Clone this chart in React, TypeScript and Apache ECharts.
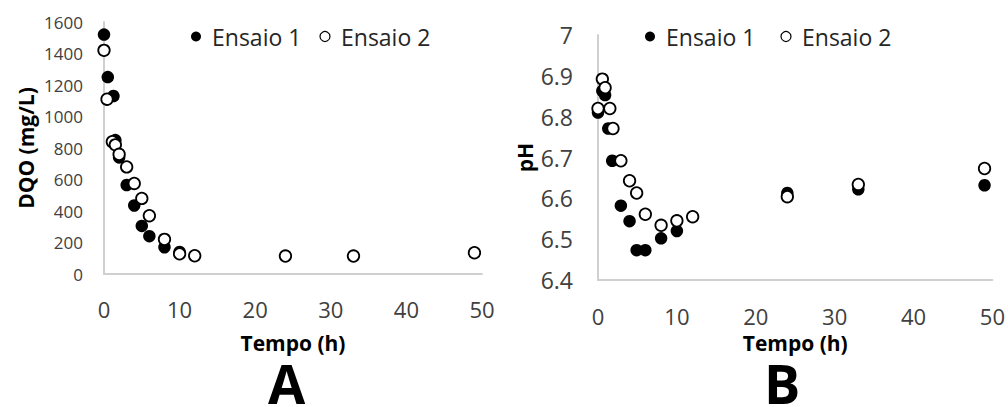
import React, { useEffect, useRef } from "react";
import * as echarts from "echarts";

// Chart A: DQO (mg/L) vs Tempo (h)
const dqoE1Time = [0, 0.5, 1.25, 1.5, 2, 3, 4, 5, 6, 8, 10];
const dqoE1Value = [1520, 1250, 1130, 850, 740, 565, 435, 305, 240, 170, 140];
const dqoE2Time = [0, 0.4, 1.1, 1.5, 2, 3, 4, 5, 6, 8, 10, 12, 24, 33, 49];
const dqoE2Value = [1420, 1110, 840, 820, 760, 680, 575, 480, 370, 220, 128, 116, 114, 114, 135];

// Chart B: pH vs Tempo (h)
const phE1Time = [0, 0.55, 0.9, 1.3, 1.8, 2.9, 4, 4.9, 6, 8, 10, 24, 33, 49];
const phE1Value = [6.81, 6.863, 6.853, 6.771, 6.692, 6.582, 6.544, 6.473, 6.473, 6.502, 6.52, 6.613, 6.622, 6.632];
const phE2Time = [0, 0.55, 0.9, 1.5, 1.9, 2.9, 4, 4.9, 6, 8, 10, 12, 24, 33, 49];
const phE2Value = [6.82, 6.892, 6.871, 6.82, 6.771, 6.692, 6.643, 6.613, 6.561, 6.534, 6.545, 6.555, 6.604, 6.634, 6.673];

const seriesNames = ["Ensaio 1", "Ensaio 2"];
const xTicks = { min: 0, max: 50, interval: 10 };
const dqoTicks = { min: 0, max: 1600, interval: 200 };
const phTicks = { min: 6.4, max: 7, interval: 0.1 };
const panelLabels = ["A", "B"];

const FONT = "'Open Sans', 'Noto Sans', sans-serif";

const zip = (xs: number[], ys: number[]) => xs.map((x, i) => [x, ys[i]]);

export default function App() {
  const ref = useRef<HTMLDivElement>(null);

  useEffect(() => {
    if (!ref.current) return;
    const chart = echarts.init(ref.current, undefined, { renderer: "svg" });

    const axisLine = { show: true, lineStyle: { color: "#d0d0d0", width: 2 } };
    const filledStyle = { color: "#000000", opacity: 1 };
    const openStyle = { color: "#ffffff", borderColor: "#000000", borderWidth: 1.8, opacity: 1 };

    const legendBase = {
      orient: "horizontal",
      padding: 0,
      itemWidth: 10,
      itemHeight: 10,
      icon: "circle",
      textStyle: { fontSize: 23, fontFamily: FONT, color: "#262626", padding: [0, 0, 0, 6] },
      data: [
        { name: seriesNames[0] },
        { name: seriesNames[1], itemStyle: { borderWidth: 1.2 } },
      ],
    };

    const nameStyle = { fontSize: 21, fontWeight: "bold", fontFamily: FONT, color: "#000" };
    const panelStyle = { fontSize: 54, fontWeight: "bold", fontFamily: FONT, fill: "#000", lineHeight: 38 };

    chart.setOption({
      animation: false,
      backgroundColor: "#ffffff",
      legend: [
        { ...legendBase, left: 191, top: 25, itemGap: 18 },
        { ...legendBase, left: 645, top: 25, itemGap: 25 },
      ],
      grid: [
        { left: 104, top: 22, width: 378, height: 252 },
        { left: 598, top: 35, width: 395, height: 245 },
      ],
      xAxis: [
        {
          gridIndex: 0,
          type: "value",
          ...xTicks,
          axisLine,
          axisTick: { show: false },
          splitLine: { show: false },
          axisLabel: { fontSize: 22, fontFamily: FONT, color: "#404040", margin: 24 },
          name: "Tempo (h)",
          nameLocation: "middle",
          nameGap: 58,
          nameTextStyle: nameStyle,
        },
        {
          gridIndex: 1,
          type: "value",
          ...xTicks,
          axisLine,
          axisTick: { show: false },
          splitLine: { show: false },
          axisLabel: { fontSize: 22, fontFamily: FONT, color: "#404040", margin: 25 },
          name: "Tempo (h)",
          nameLocation: "middle",
          nameGap: 52,
          nameTextStyle: nameStyle,
        },
      ],
      yAxis: [
        {
          gridIndex: 0,
          type: "value",
          ...dqoTicks,
          axisLine,
          axisTick: { show: false },
          splitLine: { show: false },
          axisLabel: {
            fontSize: 17,
            fontFamily: FONT,
            color: "#404040",
            margin: 21,
            formatter: (v: number) => String(v),
          },
          name: "DQO (mg/L)",
          nameLocation: "middle",
          nameGap: 68,
          nameTextStyle: nameStyle,
        },
        {
          gridIndex: 1,
          type: "value",
          ...phTicks,
          axisLine,
          axisTick: { show: false },
          splitLine: { show: false },
          axisLabel: {
            fontSize: 23,
            fontFamily: FONT,
            color: "#404040",
            margin: 25,
            formatter: (v: number) => String(Math.round(v * 10) / 10),
          },
          name: "pH",
          nameLocation: "middle",
          nameGap: 63,
          nameTextStyle: nameStyle,
        },
      ],
      series: [
        {
          name: seriesNames[0],
          type: "scatter",
          xAxisIndex: 0,
          yAxisIndex: 0,
          symbol: "circle",
          symbolSize: 12.5,
          itemStyle: filledStyle,
          data: zip(dqoE1Time, dqoE1Value),
        },
        {
          name: seriesNames[1],
          type: "scatter",
          xAxisIndex: 0,
          yAxisIndex: 0,
          symbol: "circle",
          symbolSize: 11.5,
          itemStyle: openStyle,
          data: zip(dqoE2Time, dqoE2Value),
        },
        {
          name: seriesNames[0],
          type: "scatter",
          xAxisIndex: 1,
          yAxisIndex: 1,
          symbol: "circle",
          symbolSize: 12.5,
          itemStyle: filledStyle,
          data: zip(phE1Time, phE1Value),
        },
        {
          name: seriesNames[1],
          type: "scatter",
          xAxisIndex: 1,
          yAxisIndex: 1,
          symbol: "circle",
          symbolSize: 11.5,
          itemStyle: openStyle,
          data: zip(phE2Time, phE2Value),
        },
      ],
      graphic: [
        {
          type: "text",
          left: 287 - 19,
          top: 356,
          style: { text: panelLabels[0], ...panelStyle },
        },
        {
          type: "text",
          left: 781 - 17,
          top: 356,
          style: { text: panelLabels[1], ...panelStyle },
        },
      ],
    });

    return () => chart.dispose();
  }, []);

  return (
    <div
      ref={ref}
      style={{ position: "fixed", left: 0, top: 0, width: 1008, height: 407, background: "#fff" }}
    />
  );
}
